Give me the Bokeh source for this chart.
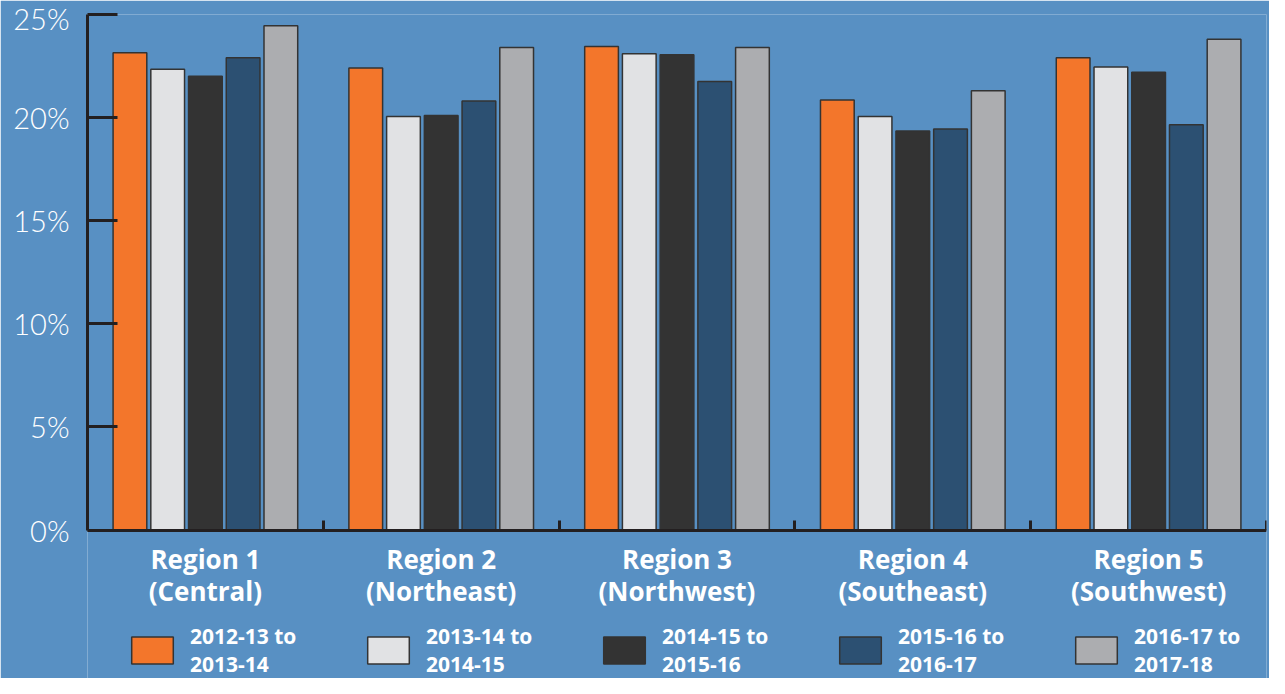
from bokeh.plotting import figure
from bokeh.models import (Range1d, FixedTicker, Legend, LegendItem, PrintfTickFormatter, ColumnDataSource)
from bokeh.transform import dodge
from bokeh.embed import file_html
from bokeh.resources import INLINE

regions = ["Region 1\n(Central)", "Region 2\n(Northeast)", "Region 3\n(Northwest)",
           "Region 4\n(Southeast)", "Region 5\n(Southwest)"]
series_names = ["2012-13 to\n2013-14", "2013-14 to\n2014-15", "2014-15 to\n2015-16",
                "2015-16 to\n2016-17", "2016-17 to\n2017-18"]
s2012 = [23.15, 22.4, 23.45, 20.85, 22.9]
s2013 = [22.35, 20.05, 23.1, 20.05, 22.45]
s2014 = [22.0, 20.1, 23.05, 19.35, 22.2]
s2015 = [22.9, 20.8, 21.75, 19.45, 19.65]
s2016 = [24.45, 23.4, 23.4, 21.3, 23.8]
y_ticks = [0, 5, 10, 15, 20, 25]

colors = ["#f3762b", "#e1e2e4", "#333333", "#2c5072", "#acadb0"]
offsets = [-0.32, -0.16, 0.0, 0.16, 0.32]
BG = "#5890c3"
AX = "#231f20"

n = len(regions)
centers = [i + 0.5 for i in range(n)]
src = ColumnDataSource(dict(x=centers, s0=s2012, s1=s2013, s2=s2014, s3=s2015, s4=s2016))

p = figure(x_range=Range1d(0, n), y_range=Range1d(-7.2, 25),
           width=1269, height=678, output_backend="svg", toolbar_location=None)
p.background_fill_color = BG
p.border_fill_color = BG
p.outline_line_color = None
p.grid.visible = False
p.min_border_left = 87
p.min_border_top = 14
p.min_border_right = 3
p.min_border_bottom = 0

items = []
for i in range(5):
    r = p.vbar(x=dodge("x", offsets[i]), top="s%d" % i, width=0.143,
               source=src, fill_color=colors[i], line_color="#333333", line_width=1.5)
    items.append(LegendItem(label=series_names[i], renderers=[r]))

ya = p.yaxis[0]
ya.ticker = FixedTicker(ticks=y_ticks)
ya.bounds = (0, 25)
ya.formatter = PrintfTickFormatter(format="%d%%")
ya.axis_line_color = AX
ya.axis_line_width = 3
ya.major_tick_line_color = AX
ya.major_tick_line_width = 3
ya.major_tick_in = 30
ya.major_tick_out = 0
ya.minor_tick_line_color = None
ya.major_label_text_color = "white"
ya.major_label_text_font = "Lato Light"
ya.major_label_text_font_size = "29px"
ya.major_label_standoff = 18

xa = p.xaxis[0]
xa.fixed_location = 0
xa.ticker = FixedTicker(ticks=centers, minor_ticks=list(range(n + 1)))
xa.major_label_overrides = {c: lab for c, lab in zip(centers, regions)}
xa.axis_line_color = AX
xa.axis_line_width = 3
xa.major_tick_line_color = None
xa.minor_tick_line_color = AX
xa.minor_tick_line_width = 3
xa.minor_tick_in = 10
xa.minor_tick_out = 0
xa.major_label_text_color = "white"
xa.major_label_text_font = "Open Sans"
xa.major_label_text_font_size = "26px"
xa.major_label_text_font_style = "bold"
xa.major_label_text_line_height = 0.9
xa.major_label_standoff = 5

legend = Legend(items=items, orientation="horizontal", location=(39, 0),
                glyph_width=52, glyph_height=34, label_standoff=12, label_width=160,
                spacing=12, padding=0, margin=0, background_fill_alpha=0, border_line_color=None,
                label_text_color="white", label_text_font="Open Sans", label_text_font_size="21px",
                label_text_font_style="bold", label_text_line_height=0.85)
p.add_layout(legend, "center")

open("out.html", "w").write(file_html(p, INLINE))
